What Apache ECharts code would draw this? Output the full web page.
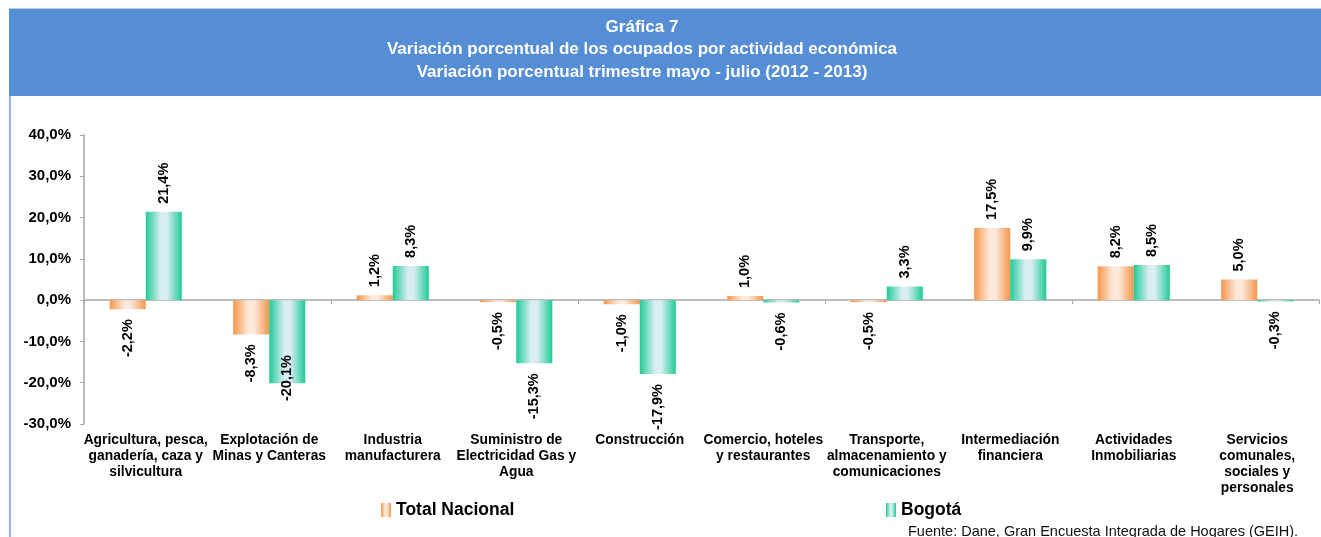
<!DOCTYPE html>
<html>
<head>
<meta charset="utf-8">
<script src="https://cdn.jsdelivr.net/npm/echarts@6/dist/echarts.min.js"></script>
<style>
  html, body { margin: 0; padding: 0; background: #fff; }
  #main { width: 1321px; height: 537px; }
</style>
</head>
<body>
<div id="main"></div>
<script>
// categorias (actividad economica)
var categorias = [
  'Agricultura, pesca,\nganadería, caza y\nsilvicultura',
  'Explotación de\nMinas y Canteras',
  'Industria\nmanufacturera',
  'Suministro de\nElectricidad Gas y\nAgua',
  'Construcción',
  'Comercio, hoteles\ny restaurantes',
  'Transporte,\nalmacenamiento y\ncomunicaciones',
  'Intermediación\nfinanciera',
  'Actividades\nInmobiliarias',
  'Servicios\ncomunales,\nsociales y\npersonales'
];
// variacion porcentual
var totalNacional = [-2.2, -8.3, 1.2, -0.5, -1.0, 1.0, -0.5, 17.5, 8.2, 5.0];
var bogota = [21.4, -20.1, 8.3, -15.3, -17.9, -0.6, 3.3, 9.9, 8.5, -0.3];
var nombres = ['Total Nacional', 'Bogotá'];

var FONT = '"Liberation Sans", Arial, sans-serif';

var fmt = function(v){
  return v.toFixed(1).replace('.', ',') + '%';
};

// etiqueta arriba o abajo segun el signo
var armarDatos = function(vals){
  return vals.map(function(v){
    if (v >= 0) {
      return { value: v, label: { position: 'top', align: 'left', distance: 8 } };
    }
    // la mas baja se sube para no pisar los nombres de abajo
    var d = v < -19 ? -28 : 10;
    return { value: v, label: { position: 'bottom', align: 'right', distance: d } };
  });
};

var degradado = function(borde, claro){
  return new echarts.graphic.LinearGradient(0, 0, 1, 0, [
    { offset: 0, color: borde },
    { offset: 0.42, color: claro },
    { offset: 0.58, color: claro },
    { offset: 1, color: borde }
  ]);
};

var etiqueta = {
  show: true,
  rotate: 90,
  verticalAlign: 'middle',
  fontFamily: FONT,
  fontWeight: 'bold',
  fontSize: 14.5,
  color: '#000',
  formatter: function(p){ return fmt(p.value); }
};

var chart = echarts.init(document.getElementById('main'));

var option = {
  backgroundColor: '#fff',
  animation: false,
  graphic: [
    { type: 'rect', shape: { x: 9, y: 8, width: 1320, height: 88 }, style: { fill: '#558ED5' }, z: 0 },
    { type: 'line', shape: { x1: 9, y1: 8.5, x2: 1321, y2: 8.5 }, style: { stroke: '#B9CDE5', lineWidth: 1 } },
    { type: 'line', shape: { x1: 10, y1: 96, x2: 10, y2: 537 }, style: { stroke: '#6C9BD8', lineWidth: 1.5 } },
    {
      type: 'text', x: 642, y: 16, z: 10,
      style: {
        text: 'Gráfica 7\nVariación porcentual de los ocupados por actividad económica\nVariación porcentual trimestre mayo - julio (2012 - 2013)',
        textAlign: 'center',
        fill: '#fff',
        fontFamily: FONT,
        fontWeight: 'bold',
        fontSize: 17,
        lineHeight: 22.5
      }
    },
    {
      type: 'text', x: 908, y: 524, z: 10,
      style: {
        text: 'Fuente: Dane, Gran Encuesta Integrada de Hogares (GEIH).',
        fill: '#111',
        fontFamily: FONT,
        fontSize: 14.5
      }
    }
  ],
  legend: [
    {
      data: [nombres[0]], left: 381, top: 501, padding: 0,
      itemWidth: 10, itemHeight: 14, icon: 'rect',
      textStyle: { fontFamily: FONT, fontWeight: 'bold', fontSize: 17.5, color: '#000' }
    },
    {
      data: [nombres[1]], left: 886, top: 501, padding: 0,
      itemWidth: 10, itemHeight: 14, icon: 'rect',
      textStyle: { fontFamily: FONT, fontWeight: 'bold', fontSize: 17.5, color: '#000' }
    }
  ],
  grid: { left: 84, right: 2, top: 135, bottom: 113, containLabel: false },
  xAxis: [
    {
      type: 'category',
      data: categorias,
      position: 'bottom',
      axisLine: { onZero: true, lineStyle: { color: '#A6A6A6', width: 1.5 } },
      axisTick: { show: true, length: 4, lineStyle: { color: '#A6A6A6' } },
      axisLabel: { show: false },
      splitLine: { show: false }
    },
    {
      type: 'category',
      data: categorias,
      position: 'bottom',
      axisLine: { show: false, onZero: false },
      axisTick: { show: false },
      axisLabel: {
        interval: 0, margin: 8,
        fontFamily: FONT, fontWeight: 'bold', fontSize: 13.8, lineHeight: 16, color: '#000'
      }
    }
  ],
  yAxis: {
    type: 'value',
    min: -30, max: 40, interval: 10,
    axisLine: { show: true, lineStyle: { color: '#A6A6A6', width: 1.5 } },
    axisTick: { show: true, length: 4, lineStyle: { color: '#A6A6A6' } },
    splitLine: { show: false },
    axisLabel: {
      margin: 13,
      fontFamily: FONT, fontWeight: 'bold', fontSize: 15, color: '#000',
      formatter: function(v){ return fmt(v); }
    }
  },
  series: [
    {
      name: nombres[0],
      type: 'bar',
      xAxisIndex: 0,
      barGap: '0%',
      barCategoryGap: '41.6%',
      itemStyle: { color: degradado('#F5964C', '#FDE9DA') },
      label: etiqueta,
      data: armarDatos(totalNacional)
    },
    {
      name: nombres[1],
      type: 'bar',
      xAxisIndex: 0,
      barGap: '0%',
      barCategoryGap: '41.6%',
      itemStyle: { color: degradado('#1FCB96', '#DAEDF2') },
      label: etiqueta,
      data: armarDatos(bogota)
    }
  ]
};

chart.setOption(option);
</script>
</body>
</html>
